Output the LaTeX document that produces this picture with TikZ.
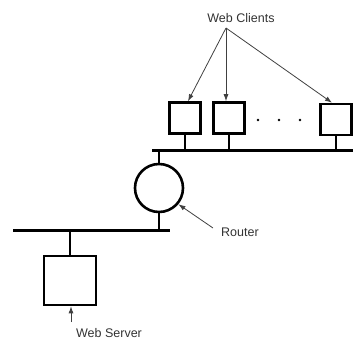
\documentclass[tikz,border=0pt]{standalone}
\usepackage{fontspec}
\setmainfont{Liberation Sans}
\usetikzlibrary{arrows.meta,positioning,calc}
\tikzset{host/.style={draw,line width=2.6pt,inner sep=0pt,minimum width=31pt,minimum height=31pt},
  bus/.style={line width=3pt},
  stem/.style={line width=2.4pt},
  lbl/.style={font=\fontsize{12.5}{14}\selectfont,text=black!80,inner sep=1pt},
  arr/.style={-{Latex[length=7pt,width=5pt]},line width=0.8pt,black!75}}
\begin{document}
\begin{tikzpicture}[x=1pt,y=-1pt]
\useasboundingbox (0,0) rectangle (353,343);
% network
\coordinate (busU) at (152,150); \coordinate (busUe) at (353,150);
\coordinate (busL) at (13,230); \coordinate (busLe) at (170,230);
\draw[bus] (busU)--(busUe);
\draw[bus] (busL)--(busLe);
\node[host] (c1) at (185,118) {};
\node[host] (c2) at (229,118) {};
\node[host] (c3) at (336,119.5) {};
\node[host,minimum width=52pt,minimum height=49pt] (srv) at (70,280.5) {};
\node[draw,circle,line width=2.6pt,minimum size=48pt,inner sep=0pt] (rt) at (159,188) {};
\foreach \n in {c1,c2,c3} \draw[stem] (\n.south)--(\n.south |- busU);
\draw[stem] (srv.north)--(srv.north |- busL);
\draw[stem] (rt.north)--(rt.north |- busU);
\draw[stem] (rt.south)--(rt.south |- busL);
\foreach \x in {258,279,300} \fill (\x,120) circle (1.4pt);
% labels
\node[lbl] (wc) at (241,18) {Web Clients};
\node[lbl,anchor=west] (rtl) at (220,232) {Router};
\node[lbl] (ws) at (109,333) {Web Server};
\coordinate (wcs) at (226,28);
\coordinate (wss) at (71,322);
\draw[arr] (wcs)--($(c1.north)+(3,0)$);
\draw[arr] (wcs)--(wcs |- c2.north);
\draw[arr] (wcs)--($(c3.north)+(-4,0)$);
\draw[arr] ($(rtl.west)+(-7,-4)$)--(rt.-40);
\draw[arr] (wss)--(wss |- srv.south);
\end{tikzpicture}
\end{document}
